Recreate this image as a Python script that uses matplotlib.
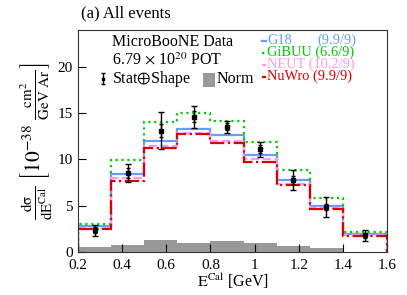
import numpy as np
import matplotlib
matplotlib.use('Agg')
import matplotlib.pyplot as plt

plt.rcParams['font.family'] = ['Liberation Serif', 'DejaVu Serif']
plt.rcParams['mathtext.fontset'] = 'stix'

edges = [0.2, 0.35, 0.5, 0.65, 0.8, 0.95, 1.1, 1.25, 1.4, 1.6]
g18 = [2.85, 8.45, 12.05, 13.3, 12.6, 10.5, 7.75, 5.0, 1.9]
gibuu = [3.05, 9.9, 14.1, 15.05, 14.2, 11.9, 8.9, 5.85, 2.2]
neut = [2.6, 8.0, 11.5, 12.85, 12.0, 10.0, 7.4, 4.8, 1.85]
nuwro = [2.45, 7.7, 11.2, 12.8, 11.8, 9.75, 7.2, 4.65, 1.75]
data = [2.35, 8.55, 13.1, 14.6, 13.55, 11.1, 7.8, 4.85, 1.8]
err_tot = [0.6, 1.0, 2.0, 1.2, 0.65, 0.8, 1.05, 1.05, 0.6]
err_stat = [0.35, 0.5, 0.7, 0.6, 0.4, 0.45, 0.4, 0.35, 0.3]
norm = [0.5, 0.8, 1.3, 0.93, 1.2, 1.0, 0.68, 0.4, 0.0]

models = [
    ('G18', '(9.9/9)', g18, '#6a9cff', '-'),
    ('GiBUU', '(6.6/9)', gibuu, '#00cc00', ':'),
    ('NEUT', '(10.2/9)', neut, '#ff99ee', '--'),
    ('NuWro', '(9.9/9)', nuwro, '#dd0000', '-.'),
]

centers = [(edges[i] + edges[i + 1]) / 2 for i in range(len(edges) - 1)]
widths = [edges[i + 1] - edges[i] for i in range(len(edges) - 1)]

fig = plt.figure(figsize=(4.07, 2.95), dpi=100)
ax = fig.add_axes([0.1916, 0.1458, 0.7594, 0.7525])

ax.bar(edges[:-1], norm, width=widths, align='edge', color='#999999', linewidth=0)

for name, chi, vals, col, ls in models:
    ax.stairs(vals, edges, color=col, linestyle=ls, linewidth=1.6)

ax.errorbar(centers, data, yerr=err_tot, fmt='none', ecolor='black',
            elinewidth=1.0, capsize=2, capthick=1.0)
ax.errorbar(centers, data, yerr=err_stat, fmt='s', color='black', ms=2.5,
            elinewidth=1.0, capsize=1.5, capthick=1.0)

ax.set_xlim(0.2, 1.6)
ax.set_ylim(0, 24)
ax.set_yticks([0, 5, 10, 15, 20])
ax.set_xticks([0.2, 0.4, 0.6, 0.8, 1.0, 1.2, 1.4, 1.6])
ax.set_xticklabels(['0.2', '0.4', '0.6', '0.8', '1', '1.2', '1.4', '1.6'])
ax.tick_params(direction='in', length=6, width=0.8, labelsize=11, top=False, right=False)
ax.tick_params(axis='x', pad=5)
for s in ax.spines.values():
    s.set_linewidth(0.8)
    s.set_color('#333333')

ax.set_xlabel(r'$\mathrm{E^{Cal}}$ [GeV]', fontsize=11.5, labelpad=0)
ax.set_ylabel(r'$\mathrm{\frac{d\sigma}{dE^{Cal}}\ \left[10^{-38}\ \frac{cm^{2}}{GeV\ Ar}\right]}$',
              fontsize=15.5, labelpad=2)

fig.text(0.2, 0.955, '(a) All events', fontsize=12, va='center', ha='left')

ax.text(0.11, 0.946, 'MicroBooNE Data', transform=ax.transAxes, fontsize=11.5, va='center')
ax.text(0.11, 0.865, r'6.79 $\times$ 10$^{20}$ POT', transform=ax.transAxes, fontsize=11.5, va='center')
ax.errorbar([0.081], [0.78], yerr=[0.025], transform=ax.transAxes, fmt='s', color='black',
            ms=2, elinewidth=1.0, capsize=1.5, capthick=1.0, clip_on=False)
ax.text(0.11, 0.78, r'Stat$\oplus$Shape', transform=ax.transAxes, fontsize=11.5, va='center')
ax.add_patch(plt.Rectangle((0.405, 0.745), 0.038, 0.06, transform=ax.transAxes,
                           color='#999999', linewidth=0))
ax.text(0.45, 0.78, 'Norm', transform=ax.transAxes, fontsize=11.5, va='center')

ys = [0.952, 0.898, 0.844, 0.790]
for (name, chi, vals, col, ls), y in zip(models, ys):
    ax.plot([0.595, 0.607], [y, y], transform=ax.transAxes, color=col, linestyle=ls, linewidth=1.6)
    if name == 'G18':
        ax.text(0.612, y, name, transform=ax.transAxes, color=col, fontsize=10.4, va='center')
        ax.text(0.775, y, chi, transform=ax.transAxes, color=col, fontsize=10.4, va='center')
    else:
        ax.text(0.612, y, name + ' ' + chi, transform=ax.transAxes, color=col, fontsize=10.4, va='center')

fig.savefig('out.png', dpi=100)
